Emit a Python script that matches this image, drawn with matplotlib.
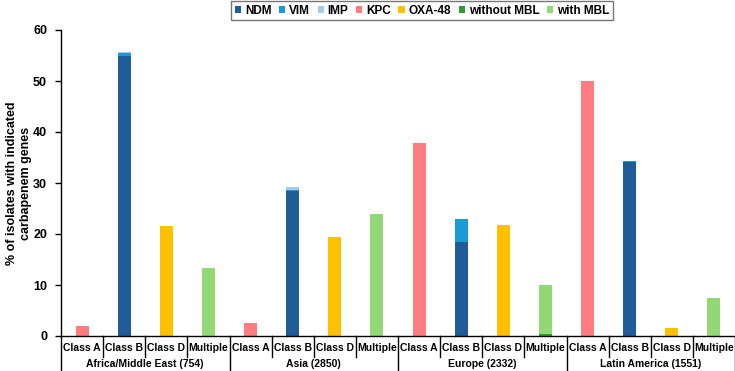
import matplotlib
matplotlib.use("Agg")
import matplotlib.pyplot as plt
from matplotlib.patches import Patch
import numpy as np

plt.rcParams['font.family'] = ['Liberation Sans', 'DejaVu Sans']
plt.rcParams['font.weight'] = 'bold'

regions = ["Africa/Middle East (754)", "Asia (2850)", "Europe (2332)", "Latin America (1551)"]
classes = ["Class A", "Class B", "Class D", "Multiple"]

# values per category (16 = 4 regions x 4 classes)
ndm = [0, 54.9, 0, 0,   0, 28.4, 0, 0,   0, 18.5, 0, 0,   0, 34.2, 0, 0]
vim = [0, 0.5, 0, 0,    0, 0.2, 0, 0,    0, 4.5, 0, 0,    0, 0.1, 0, 0]
imp = [0, 0.2, 0, 0,    0, 0.7, 0, 0,    0, 0, 0, 0,      0, 0, 0, 0]
kpc = [2.0, 0, 0, 0,    2.6, 0, 0, 0,    37.9, 0, 0, 0,   50.0, 0, 0, 0]
oxa48 = [0, 0, 21.5, 0, 0, 0, 19.4, 0,   0, 0, 21.8, 0,   0, 0, 1.5, 0]
without_mbl = [0, 0, 0, 0, 0, 0, 0, 0,   0, 0, 0, 0.4,    0, 0, 0, 0]
with_mbl = [0, 0, 0, 13.3, 0, 0, 0, 23.9, 0, 0, 0, 9.6,   0, 0, 0, 7.4]

series = [
    ("NDM", ndm, "#1F5C99"),
    ("VIM", vim, "#1A9BD7"),
    ("IMP", imp, "#A9C9E8"),
    ("KPC", kpc, "#FF7C80"),
    ("OXA-48", oxa48, "#FFC000"),
    ("without MBL", without_mbl, "#339933"),
    ("with MBL", with_mbl, "#92D973"),
]

fig = plt.figure(figsize=(7.35, 3.71), dpi=100)
ax = fig.add_axes([61/735, (371-336)/371, 1 - 61/735, (336-30)/371])

x = np.arange(16)
bottom = np.zeros(16)
for name, vals, col in series:
    v = np.array(vals, dtype=float)
    ax.bar(x, v, width=0.31, bottom=bottom, color=col, label=name, zorder=2)
    bottom += v

ax.set_xlim(-0.5, 15.5)
ax.set_ylim(0, 60)
ax.set_yticks(range(0, 61, 10))
ax.tick_params(axis='y', labelsize=9, length=4, direction='out', width=1, pad=6)
for lab in ax.get_yticklabels():
    lab.set_fontweight('bold')
ax.set_xticks([])
ax.spines['top'].set_visible(False)
ax.spines['right'].set_visible(False)
ax.spines['left'].set_linewidth(1)
ax.spines['bottom'].set_linewidth(1)

fig.text(19/735, 0.5 + (371/2 - 183) / 371, "% of isolates with indicated\ncarbapenem genes",
         rotation=90, ha='center', va='center', fontsize=9, fontweight='bold',
         multialignment='center', linespacing=1.2)

trans = ax.get_xaxis_transform()
ax_h_px = 336 - 30
def yfrac(px):
    return -(px) / ax_h_px

for i in range(16):
    ax.text(i, yfrac(12), classes[i % 4], transform=trans, ha='center', va='center',
            fontsize=7.5, fontweight='bold')
for g in range(4):
    ax.text(4 * g + 1.5, yfrac(28), regions[g], transform=trans, ha='center', va='center',
            fontsize=7.5, fontweight='bold')

for i in range(17):
    xb = i - 0.5
    if i % 4 == 0:
        y1 = yfrac(36)
    else:
        y1 = yfrac(21)
    ax.plot([xb, xb], [0, y1], transform=trans, color='black', lw=1, clip_on=False)

handles = [Patch(facecolor=c, label=n) for n, _, c in series]
leg = fig.legend(handles=handles, loc='upper center', bbox_to_anchor=(422/735, 1.0),
                 ncol=7, frameon=True, fancybox=False, edgecolor='#555555',
                 handlelength=0.55, handleheight=0.55, handletextpad=0.3,
                 columnspacing=0.65, borderpad=0.3, borderaxespad=0.1,
                 prop={'weight': 'bold', 'size': 8.5})
leg.get_frame().set_linewidth(1)

fig.savefig("out.png", dpi=100)
